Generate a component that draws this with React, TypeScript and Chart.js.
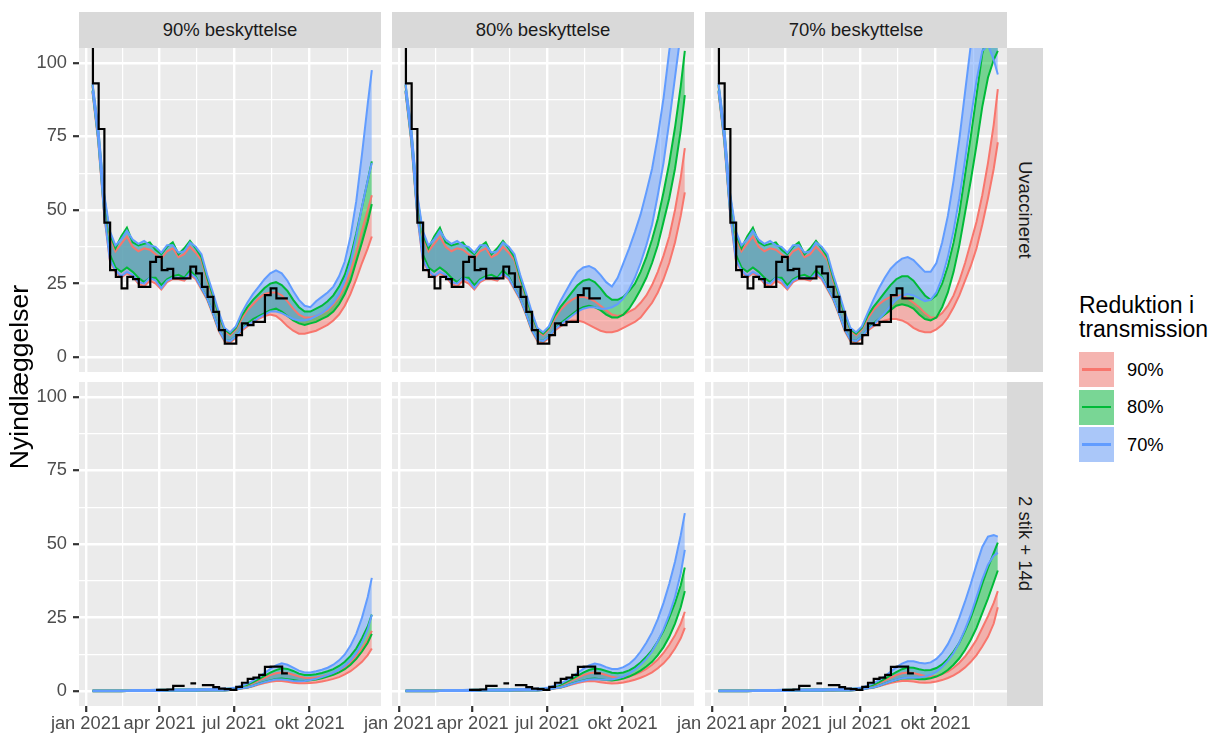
import React, { useEffect, useRef } from "react";
import { Chart, registerables } from "chart.js";

Chart.register(...registerables);

const FONT = '"Liberation Sans", Arial, Helvetica, sans-serif';

// ---------- axes ----------
const xMinDay = -8.5;
const xMaxDay = 360.2;
const xMajorDays = [0, 90, 181, 273];
const xMajorLabels = ["jan 2021", "apr 2021", "jul 2021", "okt 2021"];
const xMinorDays = [45, 135.5, 227, 319];
const yMin = -5;
const yMax = 105;
const yMajor = [0, 25, 50, 75, 100];
const yMinor = [12.5, 37.5, 62.5, 87.5];

// ---------- facets / legend ----------
const protections = ["90% beskyttelse", "80% beskyttelse", "70% beskyttelse"];
const groups = ["Uvaccineret", "2 stik + 14d"];
const reductions = ["90%", "80%", "70%"];
const reductionColors = ["#F8766D", "#00BA38", "#619CFF"];
const reductionFills = ["rgba(248,118,109,0.5)", "rgba(0,186,56,0.5)", "rgba(97,156,255,0.5)"];

// ---------- model day grid (days since 1 jan 2021) ----------
const modelDays = [8, 15, 22, 29, 36, 43, 50, 57, 64, 71, 78, 85, 92, 99, 106, 113, 120, 127, 134, 141, 148, 155, 162, 169, 176, 183, 190,
  197, 204, 211, 218, 225, 232, 239, 246, 253, 260, 267, 274, 281, 288, 295, 302, 309, 316, 323, 330, 337, 344, 349];

// ---------- observed weekly admissions ----------
const obsDays = [1.5, 8.5, 15.5, 22.5, 29.5, 36.5, 43.5, 50.5, 57.5, 64.5, 71.5, 78.5, 85.5, 92.5, 99.5, 106.5, 113.5, 120.5, 127.5, 134.5,
  141.5, 148.5, 155.5, 162.5, 169.5, 176.5, 183.5, 190.5, 197.5, 204.5, 211.5, 218.5, 225.5, 232.5, 239.5, 246.5];
const obsUvac = [125, 93, 77.5, 45.7, 29.6, 27.3, 23.4, 27.3, 26.5, 23.9, 23.9, 32.4, 34.1, 29.6, 30, 26.8, 26.8, 26.8, 30.8, 28.5,
  23.9, 20.5, 15.4, 9.2, 4.6, 4.6, 7.5, 11.5, 10.9, 12, 12, 21.1, 23.4, 20, 20, 20];
const obsVac = [null, null, null, null, null, null, null, null, null, null, null, null,
  0.5, 0.5, 0.6, 1.8, 1.8, null, 2.7, null, 2.1, 2.1, 1.4, 0.9, 0.7, 0.5, 1.5, 2.9, 4.2, 4.6, 5.6, 8.3, 8.4, 8.4, 6.1, 6.1];

// ---------- Uvaccineret, jan–jul (shared by all protection levels) ----------
const uvacEarly_r70_hi = [93, 78, 56, 43, 38, 40, 43, 40, 38.5, 39.5, 38, 37.5, 35.5, 38, 38, 35.5, 36, 39, 37.5, 35, 28, 22, 15.5, 10, 8.5, 10.5, 15];
const uvacEarly_r70_lo = [90.5, 74, 49.5, 33.5, 29.5, 27.5, 29, 28, 25.5, 25, 27, 26, 23.5, 26, 27, 27, 26.5, 28.5, 27, 23.5, 20, 15, 9.5, 6, 5.5, 7, 9.5];
const uvacEarly_r80_hi = [92.5, 77, 55, 42, 37, 41, 44, 39, 38, 38.5, 39, 36.5, 35, 37.5, 39, 35, 37, 39.5, 37, 34, 27, 21, 14.5, 9.5, 8, 10, 14];
const uvacEarly_r80_lo = [90.5, 74, 50, 35, 30.5, 29, 30.5, 29, 27, 25.5, 27, 27, 24.5, 26.5, 27.5, 28, 27, 29.5, 27.5, 23.5, 20, 15, 9.5, 6, 5.5, 7, 9.5];
const uvacEarly_r90_hi = [92, 76.5, 54, 41, 36, 38.5, 41, 37.5, 36, 37, 36.5, 35, 33.5, 36, 37, 34, 35, 37.5, 35.5, 33, 26, 20.5, 14, 9, 7.5, 9.5, 13];
const uvacEarly_r90_lo = [90, 73, 49, 33, 29, 27, 28.5, 27.5, 25, 24, 26, 25, 23, 25.5, 26.5, 26.5, 26, 28, 26.5, 23, 19.5, 14.5, 9, 5.5, 5, 6.5, 9];

// ---------- Uvaccineret, jul–dec per protection level ----------
const uvacP90_r70_hi = [18.5, 21.5, 24, 26.5, 28.5, 29.5, 28.5, 26, 22.5, 19.5, 17.5, 17, 19, 20.5, 22, 24, 27.5, 32.5, 41, 53, 69, 86, 97.5];
const uvacP90_r70_lo = [11, 12, 13.5, 14.5, 15.5, 15.5, 15, 14, 13, 12.5, 12.5, 13, 14, 15, 16.5, 18.5, 21.5, 26, 32, 41, 51, 60, 66];
const uvacP90_r80_hi = [17, 19.5, 21.5, 23.5, 25, 25.5, 24.5, 22.5, 19.5, 17, 15.5, 15.5, 16.5, 17.5, 19, 21, 24, 28, 34, 42, 51, 60, 66.5];
const uvacP90_r80_lo = [11.5, 13, 14, 15, 16, 16.5, 15.5, 14, 12.5, 11.5, 11, 11.5, 12, 13, 14, 15.5, 18, 21.5, 26, 32.5, 39, 46, 52];
const uvacP90_r90_hi = [16, 18, 20, 21.5, 22, 22, 21, 19, 16.5, 14.5, 13.5, 13.5, 14, 15, 16, 18, 20.5, 24, 29, 35.5, 43, 50, 55];
const uvacP90_r90_lo = [10.5, 12, 13, 14, 14.5, 14, 12.5, 10.5, 9, 8, 8, 8.5, 9, 10, 11, 12.5, 14.5, 17.5, 21.5, 26.5, 32, 37, 41];

const uvacP80_r70_hi = [19, 22.5, 26, 29, 30.5, 31, 30, 28, 25.5, 24, 27, 32, 37, 42.5, 48.5, 56, 64, 75, 88, 104, 118, 133, 145];
const uvacP80_r70_lo = [11, 12.5, 14, 15.5, 16.5, 17, 17, 16.5, 16.5, 17, 18, 20, 23, 27, 32, 38, 45, 55, 66, 80, 95, 110, 122];
const uvacP80_r80_hi = [17, 19.5, 22, 24.5, 26, 26.5, 25.5, 23.5, 21, 19.5, 19.5, 20.5, 22.5, 25, 29, 34, 40, 47, 56, 66, 78, 92, 104];
const uvacP80_r80_lo = [11.5, 13, 14.5, 16, 17, 17.5, 17, 16, 14.5, 13.5, 13.5, 14.5, 16.5, 19.5, 23, 27, 32, 38, 46, 54, 64, 77, 89];
const uvacP80_r90_hi = [16, 18, 19.5, 20.5, 20.5, 20, 19, 17.5, 16, 14.5, 14, 14.5, 15.5, 16.5, 18.5, 21, 24.5, 29, 34.5, 41, 50, 61, 71];
const uvacP80_r90_lo = [10.5, 11.5, 12.5, 12.5, 12, 11, 10, 9, 8.5, 8.5, 9, 10, 11, 12, 13.5, 16, 18.5, 22, 26.5, 32, 39, 48, 56];

const uvacP70_r70_hi = [19.5, 23.5, 27, 30, 32, 33.5, 34, 33, 31, 29, 29, 32, 39, 48, 60, 74, 90, 106, 118, 124, 122, 116, 110];
const uvacP70_r70_lo = [11, 13, 15, 17.5, 19.5, 21, 21.5, 21, 20, 19, 19.5, 22, 27, 34, 43, 54, 67, 81, 94, 104, 106, 101, 96];
const uvacP70_r80_hi = [17, 19.5, 22, 24.5, 26.5, 27.5, 27.5, 26, 23.5, 21, 19.5, 21, 25, 31, 39, 49, 62, 75, 89, 103, 111, 114, 115];
const uvacP70_r80_lo = [11.5, 13, 14.5, 16, 17.5, 18, 17.5, 16.5, 14.5, 13, 12.5, 13.5, 17, 22, 29, 38, 49, 60, 72, 85, 95, 101, 104];
const uvacP70_r90_hi = [16, 18, 19.5, 20.5, 21, 21, 20, 18.5, 17, 15, 13.5, 13.5, 15, 17.5, 21, 26, 32, 39, 46, 55, 66, 79, 91];
const uvacP70_r90_lo = [10.5, 11.5, 12.5, 13, 13, 12.5, 11.5, 10, 9, 8.5, 8.5, 9.5, 11, 13.5, 17, 21, 26, 31, 37, 45, 54, 64, 73];

// ---------- 2 stik + 14d, jan–jul (shared) ----------
const vacEarly_r70_hi = [0.3, 0.3, 0.3, 0.3, 0.3, 0.3, 0.3, 0.4, 0.4, 0.4, 0.4, 0.5, 0.5, 0.5, 0.6, 0.6, 0.6, 0.7, 0.7, 0.7, 0.8, 0.8, 0.8, 0.9, 1.0, 1.3, 1.9];
const vacEarly_r70_lo = [0, 0, 0, 0, 0, 0, 0.1, 0.1, 0.1, 0.1, 0.1, 0.1, 0.1, 0.2, 0.2, 0.2, 0.2, 0.2, 0.2, 0.3, 0.3, 0.3, 0.3, 0.3, 0.4, 0.6, 1.0];
const vacEarly_r80_hi = [0.3, 0.3, 0.3, 0.3, 0.3, 0.3, 0.3, 0.3, 0.4, 0.4, 0.4, 0.4, 0.5, 0.5, 0.5, 0.6, 0.6, 0.6, 0.6, 0.7, 0.7, 0.7, 0.7, 0.8, 0.9, 1.2, 1.7];
const vacEarly_r80_lo = [0, 0, 0, 0, 0, 0, 0.1, 0.1, 0.1, 0.1, 0.1, 0.1, 0.1, 0.2, 0.2, 0.2, 0.2, 0.2, 0.2, 0.3, 0.3, 0.3, 0.3, 0.3, 0.4, 0.6, 1.0];
const vacEarly_r90_hi = [0.3, 0.3, 0.3, 0.3, 0.3, 0.3, 0.3, 0.3, 0.3, 0.4, 0.4, 0.4, 0.4, 0.5, 0.5, 0.5, 0.5, 0.6, 0.6, 0.6, 0.6, 0.6, 0.7, 0.7, 0.8, 1.1, 1.5];
const vacEarly_r90_lo = [0, 0, 0, 0, 0, 0, 0.1, 0.1, 0.1, 0.1, 0.1, 0.1, 0.1, 0.1, 0.2, 0.2, 0.2, 0.2, 0.2, 0.2, 0.2, 0.3, 0.3, 0.3, 0.4, 0.5, 0.9];

// ---------- 2 stik + 14d, jul–dec per protection level ----------
const vacP90_r70_hi = [2.6, 3.6, 4.8, 6.2, 7.6, 8.8, 9.5, 9.0, 8.0, 7.0, 6.4, 6.4, 6.8, 7.3, 8.0, 9.0, 10.5, 12.5, 15.5, 19.5, 25, 32, 38.5];
const vacP90_r70_lo = [1.3, 1.9, 2.5, 3.1, 3.6, 4.0, 4.0, 3.8, 3.5, 3.4, 3.5, 3.8, 4.2, 4.8, 5.5, 6.3, 7.3, 8.7, 10.5, 13, 16.5, 21, 26];
const vacP90_r80_hi = [2.2, 3.1, 4.1, 5.2, 6.3, 7.2, 7.8, 7.6, 6.9, 6.0, 5.5, 5.5, 5.8, 6.2, 6.8, 7.5, 8.6, 10, 12, 14.5, 18, 22, 26];
const vacP90_r80_lo = [1.3, 1.9, 2.6, 3.2, 3.7, 4.2, 4.3, 4.1, 3.8, 3.5, 3.5, 3.7, 4.0, 4.4, 5.0, 5.6, 6.4, 7.5, 9, 11, 13.5, 16.5, 19.5];
const vacP90_r90_hi = [2.0, 2.8, 3.7, 4.6, 5.5, 6.1, 6.4, 6.2, 5.6, 5.0, 4.6, 4.5, 4.7, 5.0, 5.5, 6.1, 7.0, 8.2, 9.8, 12, 14.5, 17.5, 20.5];
const vacP90_r90_lo = [1.2, 1.7, 2.3, 2.8, 3.2, 3.5, 3.5, 3.2, 2.9, 2.7, 2.7, 2.8, 3.0, 3.3, 3.7, 4.2, 4.8, 5.7, 6.8, 8.3, 10, 12.3, 14.5];

const vacP80_r70_hi = [2.6, 3.6, 4.8, 6.2, 7.6, 8.8, 9.4, 9.0, 8.2, 7.6, 7.6, 8.2, 9.3, 11, 13.5, 16.5, 20, 24.5, 30, 36.5, 44, 53, 60.5];
const vacP80_r70_lo = [1.3, 1.9, 2.5, 3.1, 3.6, 4.0, 4.1, 4.0, 3.9, 4.0, 4.4, 5.0, 6.0, 7.3, 9.0, 11, 13.5, 17, 21, 26, 32, 40, 48];
const vacP80_r80_hi = [2.2, 3.1, 4.1, 5.2, 6.3, 7.2, 7.7, 7.5, 6.9, 6.3, 6.1, 6.4, 7.1, 8.2, 9.8, 11.7, 14, 17, 20.5, 25, 30, 36, 42];
const vacP80_r80_lo = [1.3, 1.9, 2.6, 3.2, 3.7, 4.2, 4.3, 4.1, 3.8, 3.7, 3.9, 4.3, 5.0, 5.9, 7.0, 8.4, 10, 12.3, 15, 18.5, 23, 28.5, 34];
const vacP80_r90_hi = [2.0, 2.8, 3.7, 4.6, 5.5, 6.1, 6.4, 6.1, 5.5, 4.9, 4.6, 4.7, 5.1, 5.7, 6.5, 7.6, 9, 10.8, 13, 15.8, 19, 23, 27];
const vacP80_r90_lo = [1.2, 1.7, 2.3, 2.8, 3.2, 3.5, 3.4, 3.1, 2.8, 2.6, 2.7, 3.0, 3.4, 3.9, 4.6, 5.4, 6.4, 7.8, 9.5, 11.7, 14.5, 18, 21.5];

const vacP70_r70_hi = [2.7, 3.8, 5.1, 6.6, 8.1, 9.4, 10.2, 10.2, 9.7, 9.4, 9.8, 11, 13, 16, 20, 25, 30.5, 36.5, 43, 49, 52.5, 53, 52.5];
const vacP70_r70_lo = [1.3, 1.9, 2.6, 3.3, 3.9, 4.4, 4.6, 4.6, 4.7, 5.0, 5.6, 6.6, 8.2, 10.3, 13, 16.5, 21, 26, 32, 38, 43, 46, 47];
const vacP70_r80_hi = [2.2, 3.1, 4.2, 5.4, 6.5, 7.5, 8.1, 8.0, 7.5, 7.1, 7.2, 7.9, 9.1, 11, 13.5, 16.5, 20.5, 25, 30.5, 36.5, 42, 47, 50.5];
const vacP70_r80_lo = [1.3, 1.9, 2.6, 3.3, 3.8, 4.3, 4.4, 4.3, 4.1, 4.1, 4.4, 5.0, 5.9, 7.2, 9, 11.2, 14, 17.5, 21.5, 26.5, 31.5, 37, 41];
const vacP70_r90_hi = [2.0, 2.8, 3.7, 4.6, 5.5, 6.1, 6.4, 6.2, 5.7, 5.2, 5.0, 5.2, 5.8, 6.7, 8, 9.7, 11.8, 14.5, 17.5, 21.5, 25.5, 30, 34];
const vacP70_r90_lo = [1.2, 1.7, 2.3, 2.8, 3.2, 3.5, 3.5, 3.3, 3.0, 2.9, 3.0, 3.3, 3.8, 4.5, 5.4, 6.6, 8.1, 10, 12.3, 15.2, 18.5, 23, 28.5];

// ---------- tables built from the arrays ----------
const band = (eLo: number[], eHi: number[], lLo: number[], lHi: number[]) => [eLo.concat(lLo), eHi.concat(lHi)];

// bands[row][col][reduction] = [lo, hi]; reduction order 90%, 80%, 70%
const bands = [
  [
    [band(uvacEarly_r90_lo, uvacEarly_r90_hi, uvacP90_r90_lo, uvacP90_r90_hi), band(uvacEarly_r80_lo, uvacEarly_r80_hi, uvacP90_r80_lo, uvacP90_r80_hi), band(uvacEarly_r70_lo, uvacEarly_r70_hi, uvacP90_r70_lo, uvacP90_r70_hi)],
    [band(uvacEarly_r90_lo, uvacEarly_r90_hi, uvacP80_r90_lo, uvacP80_r90_hi), band(uvacEarly_r80_lo, uvacEarly_r80_hi, uvacP80_r80_lo, uvacP80_r80_hi), band(uvacEarly_r70_lo, uvacEarly_r70_hi, uvacP80_r70_lo, uvacP80_r70_hi)],
    [band(uvacEarly_r90_lo, uvacEarly_r90_hi, uvacP70_r90_lo, uvacP70_r90_hi), band(uvacEarly_r80_lo, uvacEarly_r80_hi, uvacP70_r80_lo, uvacP70_r80_hi), band(uvacEarly_r70_lo, uvacEarly_r70_hi, uvacP70_r70_lo, uvacP70_r70_hi)],
  ],
  [
    [band(vacEarly_r90_lo, vacEarly_r90_hi, vacP90_r90_lo, vacP90_r90_hi), band(vacEarly_r80_lo, vacEarly_r80_hi, vacP90_r80_lo, vacP90_r80_hi), band(vacEarly_r70_lo, vacEarly_r70_hi, vacP90_r70_lo, vacP90_r70_hi)],
    [band(vacEarly_r90_lo, vacEarly_r90_hi, vacP80_r90_lo, vacP80_r90_hi), band(vacEarly_r80_lo, vacEarly_r80_hi, vacP80_r80_lo, vacP80_r80_hi), band(vacEarly_r70_lo, vacEarly_r70_hi, vacP80_r70_lo, vacP80_r70_hi)],
    [band(vacEarly_r90_lo, vacEarly_r90_hi, vacP70_r90_lo, vacP70_r90_hi), band(vacEarly_r80_lo, vacEarly_r80_hi, vacP70_r80_lo, vacP70_r80_hi), band(vacEarly_r70_lo, vacEarly_r70_hi, vacP70_r70_lo, vacP70_r70_hi)],
  ],
];
const observed = [obsUvac, obsVac];

const toPoints = (vals: number[]) => vals.map((v, i) => ({ x: modelDays[i], y: v }));

// geom_step ("hv") semantics incl. missing weeks
function stepPoints(days: number[], vals: (number | null)[]) {
  const out: { x: number; y: number | null }[] = [];
  for (let i = 0; i < days.length; i++) {
    const v = vals[i];
    if (v === null || v === undefined) continue;
    out.push({ x: days[i], y: v });
    if (i + 1 < days.length && vals[i + 1] === null) {
      out.push({ x: days[i + 1], y: v });
      out.push({ x: days[i + 1], y: null });
    }
  }
  return out;
}

// ---------- layout ----------
const PANEL_W = 302;
const PANEL_H = 324;
const colLeft = [79, 392, 705];
const rowTop = [48, 382];
const AXIS_W = 49;
const AXIS_H = 30;
const EXTRA_L = 50;

const panelBg = {
  id: "panelBg",
  beforeDraw(chart: any) {
    const { ctx, chartArea: a } = chart;
    ctx.save();
    ctx.fillStyle = "#EBEBEB";
    ctx.fillRect(a.left, a.top, a.right - a.left, a.bottom - a.top);
    ctx.restore();
  },
};

function Panel({ col, row }: { col: number; row: number }) {
  const ref = useRef<HTMLCanvasElement>(null);
  const isLeft = col === 0;
  const isBottom = row === 1;
  const w = EXTRA_L + PANEL_W;
  const h = PANEL_H + (isBottom ? AXIS_H : 0);

  useEffect(() => {
    // Chart.js paints datasets from last to first: observed line first in the array = painted on top
    const datasets: any[] = [{
      label: "Observeret", data: stepPoints(obsDays, observed[row]), borderColor: "#000000",
      borderWidth: 2.2, pointRadius: 0, fill: false, stepped: true, spanGaps: false, clip: 0,
    }];
    for (let ri = reductions.length - 1; ri >= 0; ri--) {
      const [lo, hi] = bands[row][col][ri];
      datasets.push({
        label: reductions[ri] + " øvre", data: toPoints(hi), borderColor: reductionColors[ri], backgroundColor: reductionFills[ri],
        borderWidth: 2, pointRadius: 0, fill: "+1", clip: 0, tension: 0,
      });
      datasets.push({
        label: reductions[ri] + " nedre", data: toPoints(lo), borderColor: reductionColors[ri], backgroundColor: reductionFills[ri],
        borderWidth: 2, pointRadius: 0, fill: false, clip: 0, tension: 0,
      });
    }

    const xAll = xMajorDays.concat(xMinorDays).sort((a, b) => a - b);
    const yAll = yMajor.concat(yMinor).sort((a, b) => a - b);
    const zero = (s: any) => { s.paddingLeft = 0; s.paddingRight = 0; s.paddingTop = 0; s.paddingBottom = 0; };

    const chart = new Chart(ref.current as HTMLCanvasElement, {
      type: "line",
      data: { datasets },
      plugins: [panelBg],
      options: {
        responsive: false,
        animation: false,
        devicePixelRatio: 1,
        events: [],
        layout: { padding: { left: isLeft ? EXTRA_L - AXIS_W : EXTRA_L, right: 0, top: 0, bottom: 0 }, autoPadding: false },
        plugins: {
          legend: { display: false },
          tooltip: { enabled: false },
          filler: { drawTime: "beforeDatasetsDraw", propagate: false },
        },
        scales: {
          x: {
            type: "linear", bounds: "data", min: xMinDay, max: xMaxDay,
            afterBuildTicks: (s: any) => { s.ticks = xAll.map((v) => ({ value: v })); },
            afterFit: (s: any) => { s.height = isBottom ? AXIS_H : 0; zero(s); },
            ticks: {
              display: isBottom, autoSkip: false, maxRotation: 0, minRotation: 0, padding: 1, color: "#4D4D4D",
              font: { family: FONT, size: 18.3 },
              callback: (v: any) => { const i = xMajorDays.indexOf(Number(v)); return i >= 0 ? xMajorLabels[i] : ""; },
            },
            grid: {
              color: "#FFFFFF", drawTicks: isBottom, tickLength: 6, tickWidth: 2.2,
              lineWidth: (c: any) => (c.tick && xMajorDays.includes(c.tick.value) ? 2.4 : 1.2),
              tickColor: (c: any) => (c.tick && xMajorDays.includes(c.tick.value) ? "#333333" : "rgba(0,0,0,0)"),
            },
            border: { display: false },
          },
          y: {
            type: "linear", position: "left", bounds: "data", min: yMin, max: yMax,
            afterBuildTicks: (s: any) => { s.ticks = yAll.map((v) => ({ value: v })); },
            afterFit: (s: any) => { s.width = isLeft ? AXIS_W : 0; zero(s); },
            ticks: {
              display: isLeft, autoSkip: false, padding: 6, color: "#4D4D4D",
              font: { family: FONT, size: 18.3 },
              callback: (v: any) => (yMajor.includes(Number(v)) ? String(v) : ""),
            },
            grid: {
              color: "#FFFFFF", drawTicks: isLeft, tickLength: 6, tickWidth: 2.2,
              lineWidth: (c: any) => (c.tick && yMajor.includes(c.tick.value) ? 2.4 : 1.2),
              tickColor: (c: any) => (c.tick && yMajor.includes(c.tick.value) ? "#333333" : "rgba(0,0,0,0)"),
            },
            border: { display: false },
          },
        },
      } as any,
    });
    return () => chart.destroy();
  }, [col, row]);

  return (
    <canvas
      ref={ref}
      width={w}
      height={h}
      style={{ position: "absolute", left: colLeft[col] - EXTRA_L, top: rowTop[row], width: w, height: h }}
    />
  );
}

export default function App() {
  const panels: any[] = [];
  for (let r = 0; r < 2; r++) for (let c = 0; c < 3; c++) panels.push(<Panel key={r + "-" + c} col={c} row={r} />);
  return (
    <div style={{ position: "fixed", left: 0, top: 0, width: 1217, height: 735, background: "#FFFFFF", fontFamily: FONT, overflow: "hidden" }}>
      {protections.map((p, c) => (
        <div key={p} style={{ position: "absolute", left: colLeft[c], top: 12, width: PANEL_W, height: 36, background: "#D9D9D9",
          color: "#1A1A1A", fontSize: 18.5, display: "flex", alignItems: "center", justifyContent: "center" }}>{p}</div>
      ))}
      {groups.map((g, r) => (
        <div key={g} style={{ position: "absolute", left: 1007, top: rowTop[r], width: 36, height: PANEL_H, background: "#D9D9D9",
          display: "flex", alignItems: "center", justifyContent: "center" }}>
          <span style={{ writingMode: "vertical-rl", fontSize: 18.5, color: "#1A1A1A", whiteSpace: "nowrap" }}>{g}</span>
        </div>
      ))}
      {panels}
      <div style={{ position: "absolute", left: 0, top: 48, width: 38, height: 658, display: "flex", alignItems: "center", justifyContent: "center" }}>
        <span style={{ writingMode: "vertical-rl", transform: "rotate(180deg)", fontSize: 26.5, color: "#000000", whiteSpace: "nowrap" }}>Nyindlæggelser</span>
      </div>
      <div style={{ position: "absolute", left: 1079, top: 294, fontSize: 23, lineHeight: "23.5px", color: "#000000", whiteSpace: "nowrap" }}>
        Reduktion i<br />transmission
      </div>
      {reductions.map((r, i) => (
        <React.Fragment key={r}>
          <div style={{ position: "absolute", left: 1079, top: 352 + 37.5 * i, width: 35, height: 35, background: "#F2F2F2" }}>
            <div style={{ position: "absolute", left: 0, top: 0, width: 35, height: 35, background: reductionFills[i] }} />
            <div style={{ position: "absolute", left: 3, width: 29, top: 16.3, height: 2.5, background: reductionColors[i] }} />
          </div>
          <div style={{ position: "absolute", left: 1127, top: 352 + 37.5 * i, height: 35, display: "flex", alignItems: "center",
            fontSize: 18.3, color: "#000000" }}>{r}</div>
        </React.Fragment>
      ))}
    </div>
  );
}
